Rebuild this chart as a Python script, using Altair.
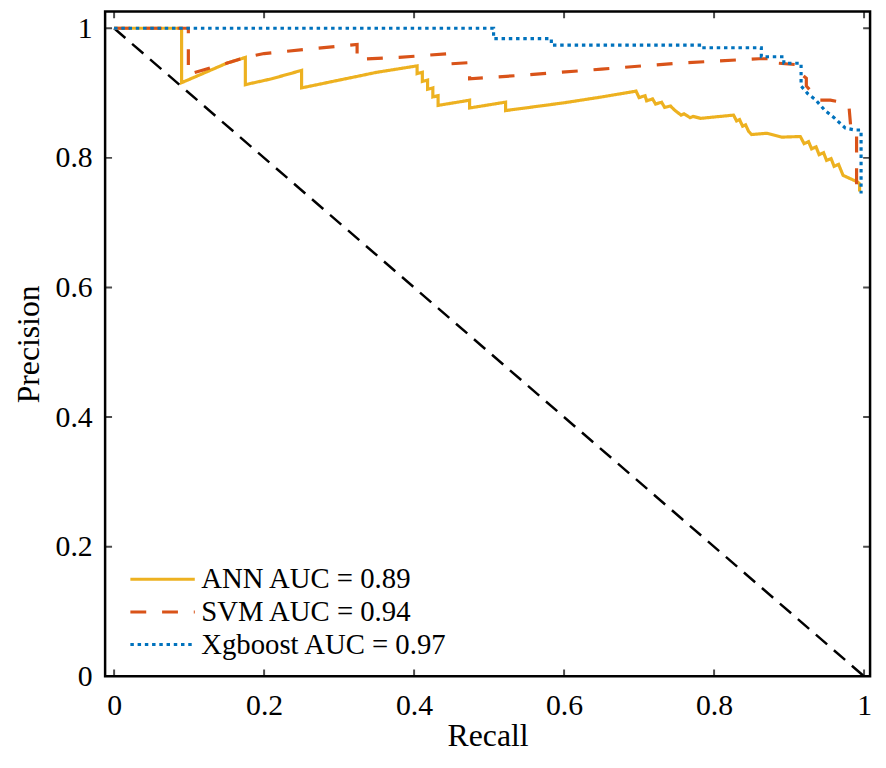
import altair as alt
import pandas as pd

# ---- data ----
ann_r = [0, 0.090, 0.090, 0.11, 0.13, 0.15, 0.175, 0.175, 0.21, 0.250, 0.250, 0.30, 0.35, 0.404,
         0.404, 0.411, 0.411, 0.418, 0.418, 0.425, 0.425, 0.432, 0.432,
         0.474, 0.474, 0.522, 0.522, 0.60, 0.65, 0.696,
         0.700, 0.708, 0.710, 0.718, 0.722, 0.730, 0.734, 0.742, 0.747,
         0.756, 0.760, 0.768, 0.772, 0.782,
         0.826, 0.830, 0.834, 0.838, 0.842, 0.846, 0.850,
         0.870, 0.890, 0.915,
         0.920, 0.926, 0.930, 0.936, 0.940, 0.946, 0.950, 0.956, 0.960, 0.966, 0.972,
         0.991, 0.994, 0.994]
ann_p = [1, 1, 0.916, 0.926, 0.936, 0.946, 0.955, 0.913, 0.922, 0.935, 0.908, 0.920, 0.932, 0.942,
         0.930, 0.932, 0.918, 0.920, 0.906, 0.908, 0.894, 0.896, 0.881,
         0.889, 0.877, 0.886, 0.873, 0.885, 0.894, 0.903,
         0.893, 0.896, 0.888, 0.891, 0.883, 0.886, 0.878, 0.880, 0.874,
         0.866, 0.868, 0.862, 0.864, 0.861,
         0.866, 0.857, 0.859, 0.849, 0.851, 0.841, 0.836,
         0.838, 0.832, 0.833,
         0.822, 0.825, 0.814, 0.817, 0.805, 0.808, 0.796, 0.799, 0.787, 0.790, 0.773,
         0.763, 0.760, 0.748]

svm_r = [0, 0.099, 0.099, 0.12, 0.15, 0.175, 0.20, 0.26, 0.324, 0.324, 0.38, 0.447, 0.447,
         0.474, 0.474, 0.55, 0.65, 0.75, 0.86, 0.886, 0.886, 0.908, 0.908, 0.923, 0.923,
         0.94, 0.955, 0.97, 0.98, 0.982, 0.99, 0.99]
svm_p = [1, 1, 0.929, 0.936, 0.946, 0.955, 0.961, 0.968, 0.975, 0.952, 0.955, 0.961, 0.945,
         0.947, 0.922, 0.928, 0.937, 0.946, 0.953, 0.953, 0.946, 0.944, 0.937, 0.923, 0.911,
         0.889, 0.889, 0.886, 0.878, 0.851, 0.846, 0.748]

xgb_r = [0, 0.506, 0.506, 0.583, 0.583, 0.783, 0.783, 0.863, 0.863, 0.893, 0.893, 0.916, 0.916,
         0.925, 0.935, 0.948, 0.960, 0.975, 0.988, 0.996, 0.996]
xgb_p = [1, 1, 0.984, 0.984, 0.974, 0.974, 0.970, 0.970, 0.956, 0.956, 0.946, 0.946, 0.911,
         0.899, 0.890, 0.873, 0.862, 0.846, 0.843, 0.843, 0.745]

series_names = ["ANN AUC = 0.89", "SVM AUC = 0.94", "Xgboost AUC = 0.97"]
series_colors = ["#EDB120", "#D95319", "#0072BD"]
series_dashes = [[1, 0], [16, 16], [3.5, 3.8]]

diag_r = [0, 1]
diag_p = [1, 0]

x_ticks = [0, 0.2, 0.4, 0.6, 0.8, 1]
y_ticks = [0, 0.2, 0.4, 0.6, 0.8, 1]

# ---- tables ----
rows = []
for name, rr, pp in zip(series_names, [ann_r, svm_r, xgb_r], [ann_p, svm_p, xgb_p]):
    for i, (a, b) in enumerate(zip(rr, pp)):
        rows.append({"series": name, "recall": a, "precision": b, "idx": i})
curves = pd.DataFrame(rows)
diag = pd.DataFrame({"recall": diag_r, "precision": diag_p})
xt = pd.DataFrame({"recall": x_ticks})
yt = pd.DataFrame({"precision": y_ticks})

W, H = 772, 671
FONT = "Liberation Serif"
TICK_FS = 30
TITLE_FS = 32
LEG_FS = 29

xscale = alt.Scale(domain=[-0.012, 1.008], nice=False, zero=False)
yscale = alt.Scale(domain=[0, 1.026], nice=False, zero=False)

xaxis = alt.Axis(values=x_ticks, format="~g", ticks=False, tickSize=0, domain=False, grid=False,
                 labelPadding=15, titlePadding=0)
yaxis = alt.Axis(values=y_ticks, format="~g", ticks=False, tickSize=0, domain=False, grid=False,
                 labelPadding=13, titlePadding=10)

base_x = alt.X("recall:Q", scale=xscale, axis=xaxis, title="Recall")
base_y = alt.Y("precision:Q", scale=yscale, axis=yaxis, title="Precision")

diag_layer = alt.Chart(diag).mark_line(color="black", strokeWidth=2.5, strokeDash=[15, 9]).encode(
    x=base_x, y=base_y
)

leg = alt.Legend(title=None, orient="none", legendX=24, legendY=558,
                 direction="vertical", symbolType="stroke", symbolSize=4225,
                 symbolStrokeWidth=3, labelFont=FONT, labelFontSize=LEG_FS,
                 labelColor="black", labelOffset=5, rowPadding=3, clipHeight=30,
                 padding=0, labelLimit=400)

curve_layer = alt.Chart(curves).mark_line(strokeWidth=3.2).encode(
    x=base_x,
    y=base_y,
    color=alt.Color("series:N", scale=alt.Scale(domain=series_names, range=series_colors),
                    legend=leg),
    strokeDash=alt.StrokeDash("series:N", scale=alt.Scale(domain=series_names, range=series_dashes),
                              legend=leg),
    order=alt.Order("idx:Q"),
    detail="series:N",
)

tick_common = dict(clip=True, size=14, thickness=2, color="black")

bottom_ticks = alt.Chart(xt).mark_tick(orient="vertical", **tick_common).encode(
    x=base_x, y=alt.value(H))
top_ticks = alt.Chart(xt).mark_tick(orient="vertical", **tick_common).encode(
    x=base_x, y=alt.value(0))
left_ticks = alt.Chart(yt).mark_tick(orient="horizontal", **tick_common).encode(
    y=base_y, x=alt.value(0))
right_ticks = alt.Chart(yt).mark_tick(orient="horizontal", **tick_common).encode(
    y=base_y, x=alt.value(W))

chart = alt.layer(
    diag_layer, curve_layer, bottom_ticks, top_ticks, left_ticks, right_ticks
).properties(
    width=W, height=H, background="white",
    autosize=alt.AutoSizeParams(type="none"),
    padding={"left": 98, "top": 0, "right": 8, "bottom": 81},
).configure_view(
    stroke="black", strokeWidth=2.5
).configure_axis(
    labelFont=FONT, labelFontSize=TICK_FS, labelColor="black",
    titleFont=FONT, titleFontSize=TITLE_FS, titleFontWeight="normal", titleColor="black",
)

chart.save("out.html", embed_options={"renderer": "svg", "actions": False})
